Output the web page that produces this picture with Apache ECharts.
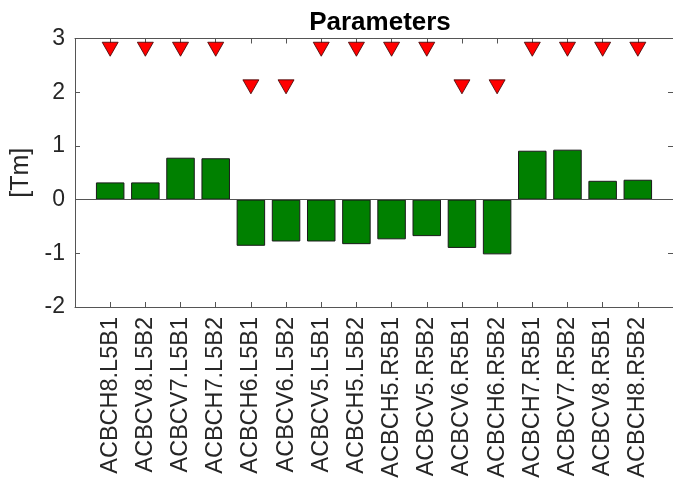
<!DOCTYPE html>
<html>
<head>
<meta charset="utf-8">
<script src="https://cdn.jsdelivr.net/npm/echarts@6/dist/echarts.min.js"></script>
<style>html,body{margin:0;padding:0;background:#fff}#c{width:673px;height:485px}</style>
</head>
<body>
<div id="c"></div>
<script>
const categories = ['ACBCH8.L5B1','ACBCV8.L5B2','ACBCV7.L5B1','ACBCH7.L5B2','ACBCH6.L5B1','ACBCV6.L5B2','ACBCV5.L5B1','ACBCH5.L5B2','ACBCH5.R5B1','ACBCV5.R5B2','ACBCV6.R5B1','ACBCH6.R5B2','ACBCH7.R5B1','ACBCV7.R5B2','ACBCV8.R5B1','ACBCH8.R5B2'];
const values = [0.32,0.32,0.78,0.77,-0.86,-0.78,-0.78,-0.83,-0.74,-0.68,-0.90,-1.02,0.91,0.93,0.35,0.37];
const limits = [2.8,2.8,2.8,2.8,2.1,2.1,2.8,2.8,2.8,2.8,2.1,2.1,2.8,2.8,2.8,2.8];
const yTicks = [-2,-1,0,1,2,3];

const font = 'Liberation Sans, Arial, Helvetica, sans-serif';
const axisCol = '#555';
const txtCol = '#262626';
const chart = echarts.init(document.getElementById('c'), null, {renderer:'canvas'});
const barData = values.map((v,i)=>[i+1,v]);
const limData = limits.map((v,i)=>[i+1,v]);
chart.setOption({
  animation:false,
  title:{text:'Parameters', left:375, top:5, textAlign:'center',
    textStyle:{fontFamily:font, fontWeight:'bold', fontSize:26, color:'#000'}},
  grid:{left:75, top:38.5, width:601, height:268.5, show:false},
  xAxis:[{
    type:'value', min:0, max:17, interval:1, position:'bottom',
    axisLine:{show:true, onZero:false, lineStyle:{color:axisCol, width:1}},
    axisTick:{show:true, inside:true, length:5, lineStyle:{color:axisCol}},
    splitLine:{show:false},
    axisLabel:{rotate:90, margin:10, fontFamily:font, fontSize:23.5, color:txtCol,
      formatter:(v)=> (v>=1 && v<=categories.length) ? categories[v-1] : ''}
  },{
    type:'value', min:0, max:17, interval:1, position:'top',
    axisLine:{show:true, onZero:false, lineStyle:{color:axisCol, width:1}},
    axisTick:{show:true, inside:true, length:5, lineStyle:{color:axisCol}},
    splitLine:{show:false}, axisLabel:{show:false}
  }],
  yAxis:[{
    type:'value', min:yTicks[0], max:yTicks[yTicks.length-1], interval:1, position:'left',
    name:'[Tm]', nameLocation:'middle', nameGap:39, nameRotate:90,
    nameTextStyle:{fontFamily:font, fontSize:25, color:txtCol},
    axisLine:{show:true, onZero:false, lineStyle:{color:axisCol, width:1}},
    axisTick:{show:true, inside:true, length:5, lineStyle:{color:axisCol}},
    splitLine:{show:false},
    axisLabel:{margin:10, fontFamily:font, fontSize:23, color:txtCol}
  },{
    type:'value', min:yTicks[0], max:yTicks[yTicks.length-1], interval:1, position:'right',
    axisLine:{show:true, onZero:false, lineStyle:{color:axisCol, width:1}},
    axisTick:{show:true, inside:true, length:5, lineStyle:{color:axisCol}},
    splitLine:{show:false}, axisLabel:{show:false}
  }],
  series:[{
    type:'bar', xAxisIndex:0, yAxisIndex:0, data:barData, barWidth:28.5,
    itemStyle:{color:'#008000', borderColor:'#1a1a1a', borderWidth:1},
    markLine:{silent:true, symbol:'none', label:{show:false},
      lineStyle:{color:axisCol, type:'solid', width:1}, data:[{yAxis:0}]}
  },{
    type:'scatter', xAxisIndex:0, yAxisIndex:0, data:limData,
    symbol:'triangle', symbolRotate:180, symbolSize:[16,14],
    itemStyle:{color:'#ff0000', borderColor:'#3a0000', borderWidth:0.8, opacity:1}
  }]
});
</script>
</body>
</html>
